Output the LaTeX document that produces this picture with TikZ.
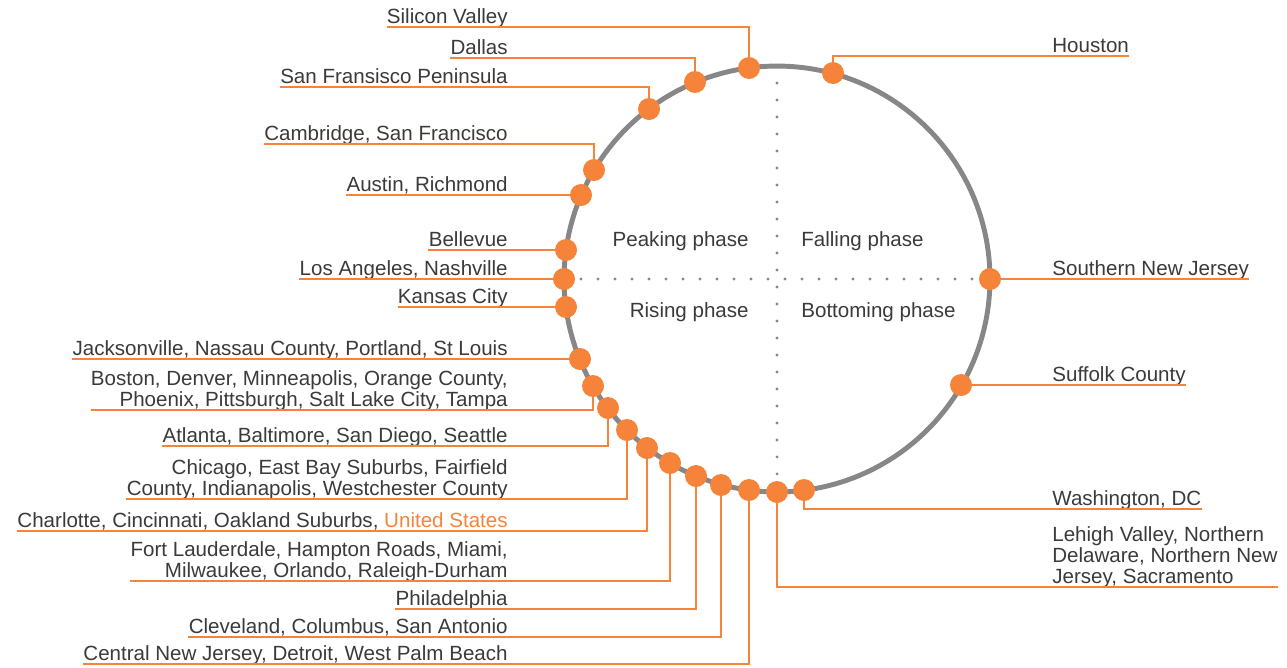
\documentclass[tikz,border=0pt]{standalone}
\usepackage{xcolor}
\usepackage{fontspec}
\usepackage{tikz}
\setmainfont{Liberation Sans}
\definecolor{cycorange}{HTML}{F5843A}
\definecolor{cycgray}{HTML}{878787}
\definecolor{cyctext}{HTML}{3A3A3A}

\begin{document}
\begin{tikzpicture}[x=0.02cm, y=-0.02cm,
  every node/.style={font=\fontsize{11.7}{12}\selectfont, text=cyctext},
  city/.style={inner sep=0pt, text depth=0.06cm},
  cityl/.style={city, anchor=south east, align=right},
  cityr/.style={city, anchor=south west, align=left},
  phase/.style={inner xsep=0pt},
  dot/.style={circle, fill=cycorange, minimum size=0.44cm, inner sep=0pt},
  leader/.style={cycorange, line width=1.1pt}]

  \useasboundingbox (0,0) rectangle (1287,667);

  % ── Cycle ring and quadrant axes ──────────────────────────────
  \draw[cycgray, line width=2.8pt] (777,279) circle (4.26cm);
  \draw[cycgray, line width=1.8pt, line cap=round, dash pattern=on 0pt off 0.34cm]
    (564,279) -- (990,279);
  \draw[cycgray, line width=1.8pt, line cap=round, dash pattern=on 0pt off 0.34cm]
    (777,66) -- (777,492);

  % ── Phase names ───────────────────────────────────────────────
  \node[phase, anchor=east] (peak) at (749,241) {Peaking phase};
  \node[phase, anchor=west] (fall) at (801,241) {Falling phase};
  \node[phase, anchor=east] (rise) at (749,312) {Rising phase};
  \node[phase, anchor=west] (bott) at (801,312) {Bottoming phase};

  % ── Peaking side (upper left) ─────────────────────────────────
  \node[dot] (sv) at (749,68) {};
  \node[cityl] (sv-l) at (508,27) {Silicon Valley};
  \draw[leader] (sv) |- (sv-l.south west);

  \node[dot] (dal) at (695,82) {};
  \node[cityl] (dal-l) at (508,58) {Dallas};
  \draw[leader] (dal) |- (dal-l.south west);

  \node[dot] (sfp) at (649,109) {};
  \node[cityl] (sfp-l) at (508,87) {San Fransisco Peninsula};
  \draw[leader] (sfp) |- (sfp-l.south west);

  \node[dot] (cam) at (594,170) {};
  \node[cityl] (cam-l) at (508,144) {Cambridge, San Francisco};
  \draw[leader] (cam) |- (cam-l.south west);

  \node[dot] (aus) at (581,195) {};
  \node[cityl] (aus-l) at (508,195) {Austin, Richmond};
  \draw[leader] (aus) -- (aus-l.south west);

  \node[dot] (bel) at (566,250) {};
  \node[cityl] (bel-l) at (508,250) {Bellevue};
  \draw[leader] (bel) -- (bel-l.south west);

  % ── Rising side (lower left) ──────────────────────────────────
  \node[dot] (la) at (564,279) {};
  \node[cityl] (la-l) at (508,279) {Los Angeles, Nashville};
  \draw[leader] (la) -- (la-l.south west);

  \node[dot] (kc) at (566,307) {};
  \node[cityl] (kc-l) at (508,307) {Kansas City};
  \draw[leader] (kc) -- (kc-l.south west);

  \node[dot] (jax) at (580,359) {};
  \node[cityl] (jax-l) at (508,359) {Jacksonville, Nassau County, Portland, St Louis};
  \draw[leader] (jax) -- (jax-l.south west);

  \node[dot] (bos) at (593,386) {};
  \node[cityl] (bos-l) at (508,410) {Boston, Denver, Minneapolis, Orange County,\\Phoenix, Pittsburgh, Salt Lake City, Tampa};
  \draw[leader] (bos) |- (bos-l.south west);

  \node[dot] (atl) at (608,408) {};
  \node[cityl] (atl-l) at (508,446) {Atlanta, Baltimore, San Diego, Seattle};
  \draw[leader] (atl) |- (atl-l.south west);

  \node[dot] (chi) at (627,430) {};
  \node[cityl] (chi-l) at (508,499) {Chicago, East Bay Suburbs, Fairfield\\County, Indianapolis, Westchester County};
  \draw[leader] (chi) |- (chi-l.south west);

  \node[dot] (cha) at (647,448) {};
  \node[cityl] (cha-l) at (508,531) {Charlotte, Cincinnati, Oakland Suburbs, \textcolor{cycorange}{United States}};
  \draw[leader] (cha) |- (cha-l.south west);

  \node[dot] (ftl) at (670,463) {};
  \node[cityl] (ftl-l) at (508,581) {Fort Lauderdale, Hampton Roads, Miami,\\Milwaukee, Orlando, Raleigh-Durham};
  \draw[leader] (ftl) |- (ftl-l.south west);

  \node[dot] (phl) at (696,476) {};
  \node[cityl] (phl-l) at (508,609) {Philadelphia};
  \draw[leader] (phl) |- (phl-l.south west);

  \node[dot] (cle) at (721,485) {};
  \node[cityl] (cle-l) at (508,637) {Cleveland, Columbus, San Antonio};
  \draw[leader] (cle) |- (cle-l.south west);

  \node[dot] (cnj) at (749,490) {};
  \node[cityl] (cnj-l) at (508,664) {Central New Jersey, Detroit, West Palm Beach};
  \draw[leader] (cnj) |- (cnj-l.south west);

  % ── Bottoming and falling side (right) ────────────────────────
  \node[dot] (leh) at (777,492) {};
  \node[cityr] (leh-l) at (1052,587) {Lehigh Valley, Northern\\Delaware, Northern New\\Jersey, Sacramento};
  \draw[leader] (leh) |- (leh-l.south east);

  \node[dot] (dc) at (804,490) {};
  \node[cityr] (dc-l) at (1052,509) {Washington, DC};
  \draw[leader] (dc) |- (dc-l.south east);

  \node[dot] (suf) at (961,385) {};
  \node[cityr] (suf-l) at (1052,385) {Suffolk County};
  \draw[leader] (suf) -- (suf-l.south east);

  \node[dot] (snj) at (990,279) {};
  \node[cityr] (snj-l) at (1052,279) {Southern New Jersey};
  \draw[leader] (snj) -- (snj-l.south east);

  \node[dot] (hou) at (833,73) {};
  \node[cityr] (hou-l) at (1052,56) {Houston};
  \draw[leader] (hou) |- (hou-l.south east);

\end{tikzpicture}
\end{document}
